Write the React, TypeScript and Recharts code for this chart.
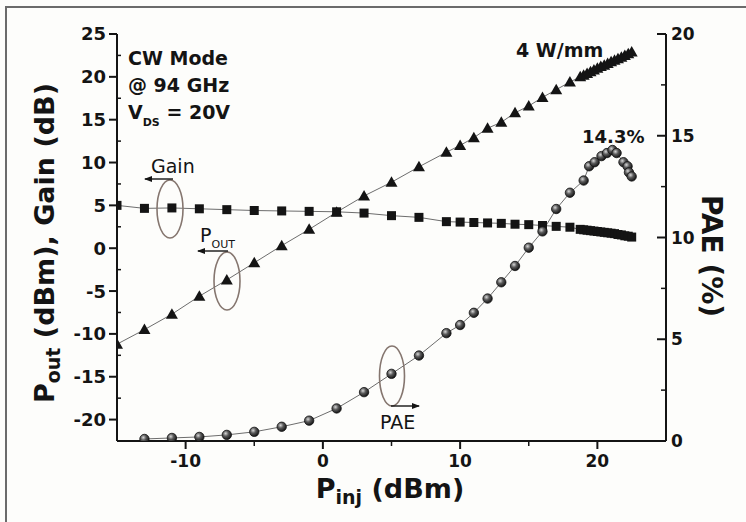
import { LineChart, Line, XAxis, YAxis } from "recharts";

const pinPout = [-15, -13, -11, -9, -7, -5, -3, -1, 1, 3, 5, 7, 9, 10, 11, 12, 13, 14, 15, 16, 17, 18,
  18.75, 19, 19.25, 19.5, 19.75, 20, 20.25, 20.5, 20.75, 21, 21.25, 21.5, 21.75, 22, 22.25, 22.5];
const pout = [-11.2, -9.5, -7.7, -5.6, -3.7, -1.7, 0.3, 2.2, 4.2, 6.1, 7.7, 9.5, 11.2, 12.0, 12.9, 14.0, 14.7, 15.8, 16.6, 17.6, 18.5, 19.4,
  20.0, 20.2, 20.4, 20.6, 20.8, 21.0, 21.2, 21.35, 21.55, 21.75, 21.95, 22.1, 22.3, 22.5, 22.7, 22.9];

const pinGain = [-15, -13, -11, -9, -7, -5, -3, -1, 1, 3, 5, 7, 9, 10, 11, 12, 13, 14, 15, 16, 17, 18,
  18.75, 19, 19.25, 19.5, 19.75, 20, 20.25, 20.5, 20.75, 21, 21.25, 21.5, 21.75, 22, 22.25, 22.5];
const gain = [5.0, 4.65, 4.7, 4.6, 4.5, 4.4, 4.35, 4.3, 4.25, 4.1, 3.8, 3.6, 3.1, 3.05, 3.0, 2.95, 2.9, 2.8, 2.75, 2.65, 2.55, 2.45,
  2.2, 2.15, 2.1, 2.05, 2.0, 1.95, 1.9, 1.85, 1.8, 1.75, 1.7, 1.6, 1.55, 1.45, 1.4, 1.3];

const pinPae = [-13, -11, -9, -7, -5, -3, -1, 1, 3, 5, 7, 9, 10, 11, 12, 13, 14, 15, 16, 17, 18,
  19, 19.4, 19.8, 20.3, 20.7, 21.1, 21.4, 21.9, 22.2, 22.3, 22.5];
const pae = [0.1, 0.15, 0.2, 0.3, 0.45, 0.7, 1.0, 1.6, 2.4, 3.3, 4.2, 5.3, 5.7, 6.3, 7.0, 7.8, 8.6, 9.5, 10.3, 11.4, 12.2,
  12.8, 13.5, 13.7, 14.0, 14.15, 14.3, 14.15, 13.7, 13.5, 13.2, 13.0];

const leftTicks = [-20, -17.5, -15, -12.5, -10, -7.5, -5, -2.5, 0, 2.5, 5, 7.5, 10, 12.5, 15, 17.5, 20, 22.5, 25];
const rightTicks = [0, 2.5, 5, 7.5, 10, 12.5, 15, 17.5, 20];
const bottomTicks = [-10, -5, 0, 5, 10, 15, 20];
const topTicks = [-11, -7, -3, 1, 5, 9, 13, 17, 21];

const poutData = pinPout.map((pin, i) => ({ pin, pout: pout[i] }));
const gainData = pinGain.map((pin, i) => ({ pin, gain: gain[i] }));
const paeData = pinPae.map((pin, i) => ({ pin, pae: pae[i] }));

const FONT = "'DejaVu Sans', sans-serif";
const INK = "#141414";

function LeftTick(props: any) {
  const { x, y, payload } = props;
  const v = payload.value;
  if (v % 5 !== 0) return <line x1={x} x2={x + 4} y1={y} y2={y} stroke={INK} strokeWidth={1.5} />;
  return (
    <g>
      <line x1={x - 8} x2={x} y1={y} y2={y} stroke={INK} strokeWidth={2} />
      <text x={x - 11} y={y} dy="0.36em" textAnchor="end" fontFamily={FONT} fontWeight="bold" fontSize={18} fill={INK}>
        {v}
      </text>
    </g>
  );
}

function RightTick(props: any) {
  const { x, y, payload } = props;
  const v = payload.value;
  if (v % 5 !== 0) return <line x1={x - 5} x2={x} y1={y} y2={y} stroke={INK} strokeWidth={1.5} />;
  return (
    <g>
      <line x1={x - 9} x2={x} y1={y} y2={y} stroke={INK} strokeWidth={2} />
      <text x={x + 5} y={y} dy="0.36em" textAnchor="start" fontFamily={FONT} fontWeight="bold" fontSize={17} fill={INK}>
        {v}
      </text>
    </g>
  );
}

function BottomTick(props: any) {
  const { x, y, payload } = props;
  const v = payload.value;
  if (v % 10 !== 0) return <line x1={x} x2={x} y1={y} y2={y + 5} stroke={INK} strokeWidth={1.5} />;
  return (
    <g>
      <line x1={x} x2={x} y1={y} y2={y + 8} stroke={INK} strokeWidth={2} />
      <text x={x} y={y + 26} textAnchor="middle" fontFamily={FONT} fontWeight="bold" fontSize={17} fill={INK}>
        {v}
      </text>
    </g>
  );
}

function TopTick(props: any) {
  const { x, y } = props;
  return <line x1={x} x2={x} y1={y} y2={y + 6} stroke={INK} strokeWidth={1.5} />;
}

const triangleDot = (p: any) => (
  <path
    key={`t${p.index}`}
    d={`M${p.cx},${p.cy - 6}L${p.cx + 6},${p.cy + 4.5}L${p.cx - 6},${p.cy + 4.5}Z`}
    fill={INK}
  />
);
const squareDot = (p: any) => (
  <rect key={`s${p.index}`} x={p.cx - 4.5} y={p.cy - 4.5} width={9} height={9} fill={INK} />
);
const sphereDot = (p: any) => (
  <circle key={`c${p.index}`} cx={p.cx} cy={p.cy} r={4.7} fill="url(#sphere)" stroke="#111" strokeWidth={0.8} />
);

const axisLine = { stroke: INK, strokeWidth: 2 };

export default function App() {
  return (
    <div style={{ position: "relative", width: 746, height: 522, background: "#fdfdfb", overflow: "hidden" }}>
      <style>{`body{margin:0;overflow:hidden}`}</style>
      <div
        style={{
          position: "absolute",
          left: 5,
          top: 6,
          width: 760,
          height: 540,
          borderLeft: "2px solid #6b6b6b",
          borderTop: "2px solid #6b6b6b",
        }}
      />
      <LineChart width={746} height={522} margin={{ top: 34, right: 20, bottom: 21, left: 57 }}>
        <XAxis
          xAxisId="bottom"
          dataKey="pin"
          type="number"
          domain={[-15, 25]}
          allowDataOverflow
          ticks={bottomTicks}
          interval={0}
          height={60}
          tickSize={0}
          tickMargin={0}
          tickLine={false}
          tick={BottomTick}
          axisLine={axisLine}
        />
        <XAxis
          xAxisId="top"
          orientation="top"
          type="number"
          domain={[-15, 25]}
          allowDataOverflow
          ticks={topTicks}
          interval={0}
          height={0}
          tickSize={0}
          tickMargin={0}
          tickLine={false}
          tick={TopTick}
          axisLine={axisLine}
        />
        <YAxis
          yAxisId="left"
          type="number"
          domain={[-22.5, 25]}
          allowDataOverflow
          ticks={leftTicks}
          interval={0}
          width={60}
          tickSize={0}
          tickMargin={0}
          tickLine={false}
          tick={LeftTick}
          axisLine={axisLine}
        />
        <YAxis
          yAxisId="right"
          orientation="right"
          type="number"
          domain={[0, 20]}
          allowDataOverflow
          ticks={rightTicks}
          interval={0}
          width={60}
          tickSize={0}
          tickMargin={0}
          tickLine={false}
          tick={RightTick}
          axisLine={axisLine}
        />
        <Line
          data={gainData}
          dataKey="gain"
          xAxisId="bottom"
          yAxisId="left"
          stroke="#6d6d6d"
          strokeWidth={1}
          dot={squareDot}
          activeDot={false}
          isAnimationActive={false}
        />
        <Line
          data={poutData}
          dataKey="pout"
          xAxisId="bottom"
          yAxisId="left"
          stroke="#6d6d6d"
          strokeWidth={1}
          dot={triangleDot}
          activeDot={false}
          isAnimationActive={false}
        />
        <Line
          data={paeData}
          dataKey="pae"
          xAxisId="bottom"
          yAxisId="right"
          stroke="#6d6d6d"
          strokeWidth={1}
          dot={sphereDot}
          activeDot={false}
          isAnimationActive={false}
        />
      </LineChart>

      <svg width={746} height={522} style={{ position: "absolute", left: 0, top: 0, pointerEvents: "none" }}>
        <defs>
          <radialGradient id="sphere" cx="38%" cy="35%" r="65%">
            <stop offset="0%" stopColor="#d8d8d8" />
            <stop offset="45%" stopColor="#5a5a5a" />
            <stop offset="100%" stopColor="#151515" />
          </radialGradient>
          <marker id="head" markerWidth={8} markerHeight={6} refX={7} refY={3} orient="auto" markerUnits="userSpaceOnUse">
            <path d="M0,0L8,3L0,6Z" fill={INK} />
          </marker>
        </defs>

        {/* axis titles */}
        <text transform="translate(54,243) rotate(-90)" textAnchor="middle" fontFamily={FONT} fontWeight="bold" fontSize={27} fill={INK}>
          P<tspan fontSize={19} dy={6}>out</tspan>
          <tspan dy={-6}> (dBm), Gain (dB)</tspan>
        </text>
        <text x={390} y={498} textAnchor="middle" fontFamily={FONT} fontWeight="bold" fontSize={27} fill={INK}>
          P<tspan fontSize={19} dy={6}>inj</tspan>
          <tspan dy={-6}> (dBm)</tspan>
        </text>
        <text transform="translate(702,256) rotate(90)" textAnchor="middle" fontFamily={FONT} fontWeight="bold" fontSize={28} fill={INK}>
          PAE (%)
        </text>

        {/* conditions */}
        <g fontFamily={FONT} fontWeight="bold" fontSize={19} fill={INK}>
          <text x={128} y={65}>CW Mode</text>
          <text x={128} y={92}>@ 94 GHz</text>
          <text x={128} y={119}>
            V<tspan fontSize={11} dy={7}>DS</tspan>
            <tspan dy={-7}> = 20V</tspan>
          </text>
          <text x={516} y={57}>4 W/mm</text>
          <text x={582} y={143} fontSize={18}>14.3%</text>
        </g>

        {/* series call-outs */}
        <g fill="none" stroke="#85766f" strokeWidth={1.6}>
          <ellipse cx={170} cy={209} rx={13} ry={29} />
          <ellipse cx={227} cy={281} rx={13} ry={29} />
          <ellipse cx={392} cy={376} rx={12.5} ry={30} />
        </g>
        <g stroke={INK} strokeWidth={1.4}>
          <line x1={173} y1={179} x2={145} y2={179} markerEnd="url(#head)" />
          <line x1={228} y1={251} x2={198} y2={251} markerEnd="url(#head)" />
          <line x1={391} y1={406} x2={419} y2={406} markerEnd="url(#head)" />
        </g>
        <g fontFamily={FONT} fontSize={19} fill={INK}>
          <text x={151} y={173}>Gain</text>
          <text x={200} y={242}>
            P<tspan fontSize={11} dy={6}>OUT</tspan>
          </text>
          <text x={380} y={429}>PAE</text>
        </g>
      </svg>
    </div>
  );
}
